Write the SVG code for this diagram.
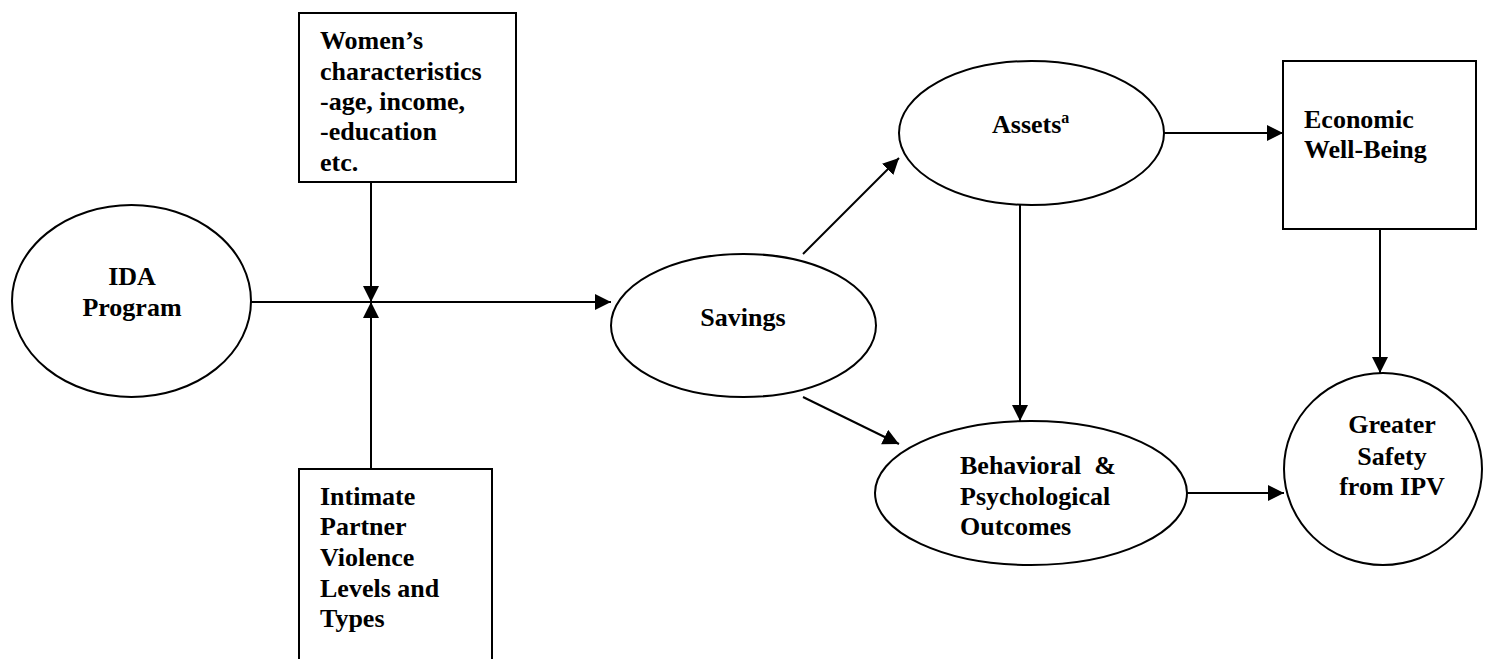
<svg xmlns="http://www.w3.org/2000/svg" width="1487" height="659" viewBox="0 0 1487 659">
<style>
.shape{fill:#fff;stroke:#000;stroke-width:2}
.edge{fill:none;stroke:#000;stroke-width:2}
text{font-family:"Liberation Serif","Times New Roman",serif;font-weight:bold;font-size:26px;fill:#000}
.c{text-anchor:middle}
</style>
<defs>
<marker id="arr" markerUnits="userSpaceOnUse" markerWidth="17" markerHeight="17" refX="16" refY="8" orient="auto">
<path d="M0,0 L16,8 L0,16 z" fill="#000"/>
</marker>
</defs>
<g id="connectors">
<line class="edge" x1="251" y1="302" x2="611" y2="302" marker-end="url(#arr)"/>
<line class="edge" x1="371" y1="182" x2="371" y2="302" marker-end="url(#arr)"/>
<line class="edge" x1="371" y1="469" x2="371" y2="302" marker-end="url(#arr)"/>
<line class="edge" x1="803" y1="254" x2="899" y2="158" marker-end="url(#arr)"/>
<line class="edge" x1="803" y1="397" x2="899" y2="444" marker-end="url(#arr)"/>
<line class="edge" x1="1164" y1="133" x2="1283" y2="133" marker-end="url(#arr)"/>
<line class="edge" x1="1020" y1="205" x2="1020" y2="421" marker-end="url(#arr)"/>
<line class="edge" x1="1380" y1="229" x2="1380" y2="373" marker-end="url(#arr)"/>
<line class="edge" x1="1187" y1="493" x2="1284" y2="493" marker-end="url(#arr)"/>
</g>
<g id="ida">
<ellipse class="shape" cx="131.5" cy="301" rx="119.5" ry="96"/>
<text class="c" x="132" y="285">IDA</text>
<text class="c" x="132" y="316">Program</text>
</g>
<g id="women">
<rect class="shape" x="299" y="13" width="217" height="169"/>
<text x="320" y="49">Women’s</text>
<text x="320" y="80">characteristics</text>
<text x="320" y="110">-age, income,</text>
<text x="320" y="140">-education</text>
<text x="320" y="171">etc.</text>
</g>
<g id="ipv">
<rect class="shape" x="299" y="469" width="193" height="200"/>
<text x="320" y="505">Intimate</text>
<text x="320" y="535">Partner</text>
<text x="320" y="566">Violence</text>
<text x="320" y="597">Levels and</text>
<text x="320" y="627">Types</text>
</g>
<g id="savings">
<ellipse class="shape" cx="743.5" cy="325.5" rx="132.5" ry="71.5"/>
<text class="c" x="743" y="326">Savings</text>
</g>
<g id="assets">
<ellipse class="shape" cx="1031.5" cy="133" rx="132.5" ry="72"/>
<text x="992" y="133">Assets<tspan font-size="16" dy="-10">a</tspan></text>
</g>
<g id="economic">
<rect class="shape" x="1283" y="61" width="193" height="168"/>
<text x="1304" y="128">Economic</text>
<text x="1304" y="158">Well-Being</text>
</g>
<g id="behavioral">
<ellipse class="shape" cx="1031" cy="493" rx="156" ry="72"/>
<text x="960" y="474" xml:space="preserve">Behavioral  &amp;</text>
<text x="960" y="505">Psychological</text>
<text x="960" y="535">Outcomes</text>
</g>
<g id="safety">
<ellipse class="shape" cx="1383" cy="469" rx="99" ry="96"/>
<text class="c" x="1392" y="433">Greater</text>
<text class="c" x="1392" y="465">Safety</text>
<text class="c" x="1392" y="495">from IPV</text>
</g>
</svg>
